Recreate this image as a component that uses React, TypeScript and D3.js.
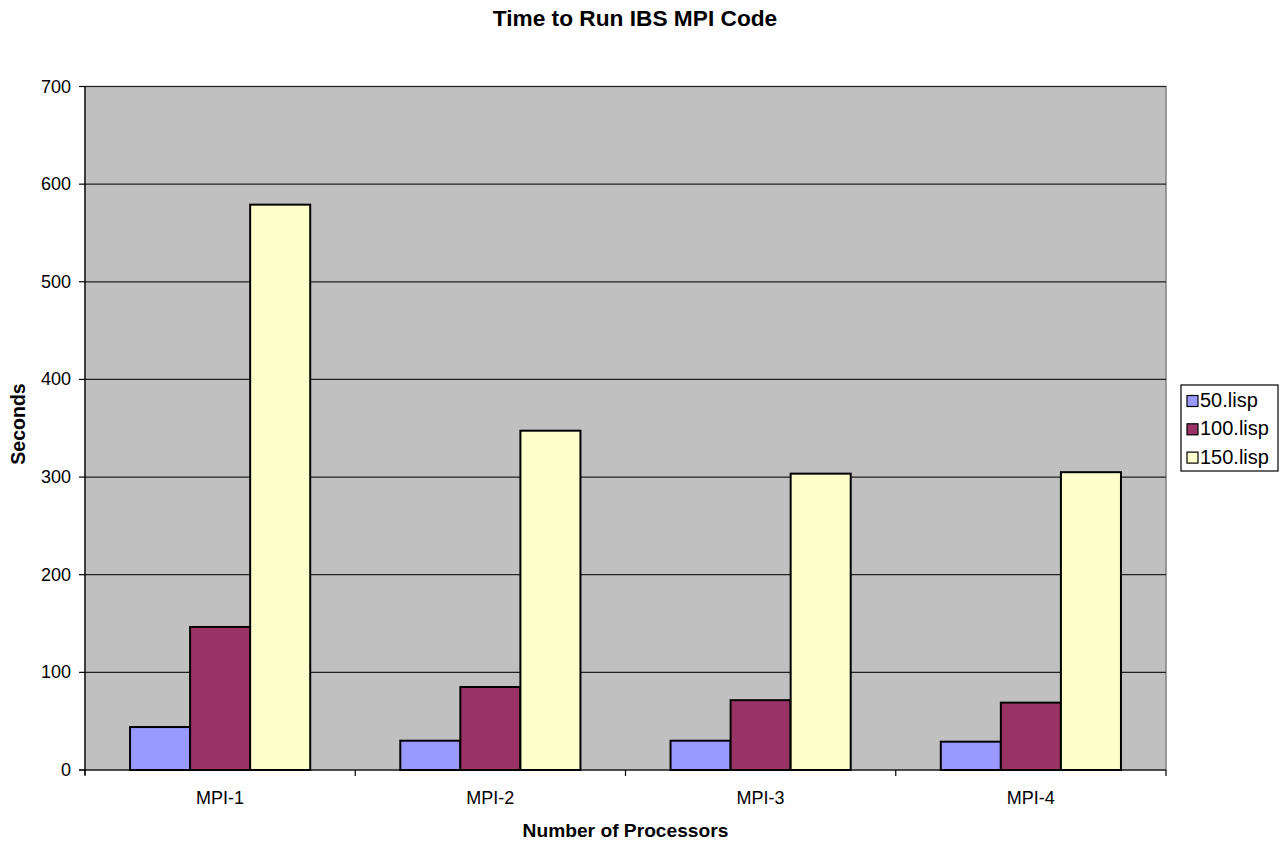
import React from "react";
import * as d3 from "d3";

const categories = ["MPI-1", "MPI-2", "MPI-3", "MPI-4"];
const seriesNames = ["50.lisp", "100.lisp", "150.lisp"];
const lisp50 = [44, 30, 30, 29];
const lisp100 = [146.5, 85, 71.5, 69];
const lisp150 = [579, 347.5, 303.5, 305];
const yTicks = [0, 100, 200, 300, 400, 500, 600, 700];
const colors = ["#9999FF", "#993366", "#FFFFCC"];

const W = 1288;
const H = 841;
const left = 85;
const right = 1166;
const top = 86.5;
const bottom = 770;
const FONT = "Liberation Sans, Arial, sans-serif";

export default function App() {
  const series = [lisp50, lisp100, lisp150];
  const x = d3.scaleBand<string>().domain(categories).range([left, right]).padding(0);
  const inner = d3
    .scaleBand<number>()
    .domain([0, 1, 2])
    .range([0, x.bandwidth()])
    .paddingInner(0)
    .paddingOuter(0.75);
  const y = d3.scaleLinear().domain([0, 700]).range([bottom, top]);

  const boundaries = categories.map((c) => x(c)!).concat([right]);

  return (
    <svg
      width={W}
      height={H}
      style={{ position: "absolute", left: 0, top: 0, background: "#fff" }}
      fontFamily={FONT}
    >
      <text x={635} y={26} textAnchor="middle" fontSize={22.7} fontWeight="bold">
        Time to Run IBS MPI Code
      </text>

      <rect x={left} y={top} width={right - left} height={bottom - top} fill="#C0C0C0" stroke="#808080" strokeWidth={1.5} />

      {yTicks.slice(1).map((t) => (
        <line key={t} x1={left} x2={right} y1={y(t)} y2={y(t)} stroke="#222" strokeWidth={1.2} />
      ))}

      {series.map((vals, si) =>
        categories.map((c, ci) => {
          const bx = x(c)! + inner(si)!;
          return (
            <rect
              key={`${si}-${ci}`}
              x={bx}
              y={y(vals[ci])}
              width={inner.bandwidth()}
              height={y(0) - y(vals[ci])}
              fill={colors[si]}
              stroke="#000"
              strokeWidth={2}
            />
          );
        })
      )}

      {/* axes */}
      <line x1={left} x2={left} y1={top} y2={bottom + 5} stroke="#000" strokeWidth={1.2} />
      <line x1={left - 6} x2={right} y1={bottom} y2={bottom} stroke="#000" strokeWidth={1.2} />
      {yTicks.map((t) => (
        <g key={t}>
          <line x1={left - 6} x2={left} y1={y(t)} y2={y(t)} stroke="#000" strokeWidth={1.2} />
          <text x={left - 14} y={y(t) + 6} textAnchor="end" fontSize={18}>
            {t}
          </text>
        </g>
      ))}
      {boundaries.map((bx, i) => (
        <line key={i} x1={bx} x2={bx} y1={bottom} y2={bottom + 6} stroke="#000" strokeWidth={1.2} />
      ))}
      {categories.map((c) => (
        <text key={c} x={x(c)! + x.bandwidth() / 2} y={bottom + 34} textAnchor="middle" fontSize={18}>
          {c}
        </text>
      ))}

      <text x={(left + right) / 2} y={836.5} textAnchor="middle" fontSize={19.2} fontWeight="bold">
        Number of Processors
      </text>
      <text
        transform={`translate(25, 424) rotate(-90)`}
        textAnchor="middle"
        fontSize={19.5}
        fontWeight="bold"
      >
        Seconds
      </text>

      {/* legend */}
      <rect x={1181} y={385} width={97} height={86} fill="#fff" stroke="#000" strokeWidth={1.2} />
      {seriesNames.map((n, i) => (
        <g key={n}>
          <rect x={1187} y={395.5 + i * 28.3} width={11} height={11} fill={colors[i]} stroke="#000" strokeWidth={1.2} />
          <text x={1200} y={407 + i * 28.3} fontSize={20}>
            {n}
          </text>
        </g>
      ))}
    </svg>
  );
}
